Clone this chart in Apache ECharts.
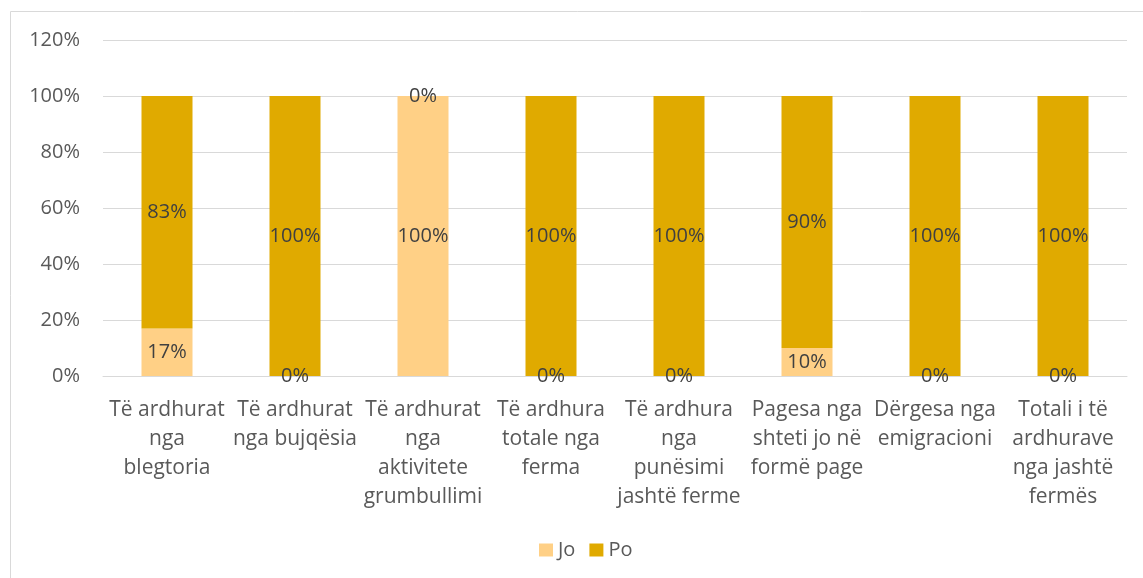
<!DOCTYPE html>
<html>
<head>
<meta charset="utf-8">
<script src="https://cdn.jsdelivr.net/npm/echarts@6/dist/echarts.min.js"></script>
<style>
html, body { margin: 0; padding: 0; background: #fff; }
#main { width: 1143px; height: 578px; }
</style>
</head>
<body>
<div id="main"></div>
<script>
// kategorite (me ndarje rreshtash si ne origjinal)
var kategorite = [
    'Të ardhurat\nnga\nblegtoria',
    'Të ardhurat\nnga bujqësia',
    'Të ardhurat\nnga\naktivitete\ngrumbullimi',
    'Të ardhura\ntotale nga\nferma',
    'Të ardhura\nnga\npunësimi\njashtë ferme',
    'Pagesa nga\nshteti jo në\nformë page',
    'Dërgesa nga\nemigracioni',
    'Totali i të\nardhurave\nnga jashtë\nfermës'
];
var vlerat_jo = [17, 0, 100, 0, 0, 10, 0, 0];
var vlerat_po = [83, 100, 0, 100, 100, 90, 100, 100];
var ngjyrat = ['#FFD086', '#E0AA00'];

var myChart = echarts.init(document.getElementById('main'));

var etiketa = {
    show: true,
    position: 'inside',
    formatter: '{c}%',
    color: '#404040',
    fontFamily: 'Open Sans',
    fontSize: 20
};

var option = {
    animation: false,
    color: ngjyrat,
    graphic: [{
        type: 'rect',
        shape: { x: 10.5, y: 11.5, width: 1150, height: 600 },
        style: { fill: 'none', stroke: '#D9D9D9', lineWidth: 1 },
        silent: true
    }],
    grid: { left: 103, right: 16, top: 40, bottom: 202 },
    legend: {
        data: ['Jo', 'Po'],
        bottom: 13,
        left: 534,
        itemWidth: 14,
        itemHeight: 13,
        itemGap: 14,
        icon: 'rect',
        textStyle: { color: '#595959', fontFamily: 'Open Sans', fontSize: 20 }
    },
    xAxis: {
        type: 'category',
        data: kategorite,
        axisLine: { lineStyle: { color: '#D9D9D9', width: 1 } },
        axisTick: { show: false },
        axisLabel: {
            interval: 0,
            color: '#595959',
            fontFamily: 'Open Sans',
            fontSize: 21,
            lineHeight: 29,
            margin: 20
        }
    },
    yAxis: {
        type: 'value',
        min: 0,
        max: 120,
        interval: 20,
        axisLine: { show: false },
        axisTick: { show: false },
        splitLine: { lineStyle: { color: '#D9D9D9', width: 1 } },
        axisLabel: {
            formatter: '{value}%',
            color: '#595959',
            fontFamily: 'Open Sans',
            fontSize: 20,
            margin: 23
        }
    },
    series: [
        {
            name: 'Jo',
            type: 'bar',
            stack: 'total',
            barWidth: 51,
            data: vlerat_jo,
            label: etiketa
        },
        {
            name: 'Po',
            type: 'bar',
            stack: 'total',
            barWidth: 51,
            data: vlerat_po,
            label: etiketa
        }
    ]
};

myChart.setOption(option);
</script>
</body>
</html>
